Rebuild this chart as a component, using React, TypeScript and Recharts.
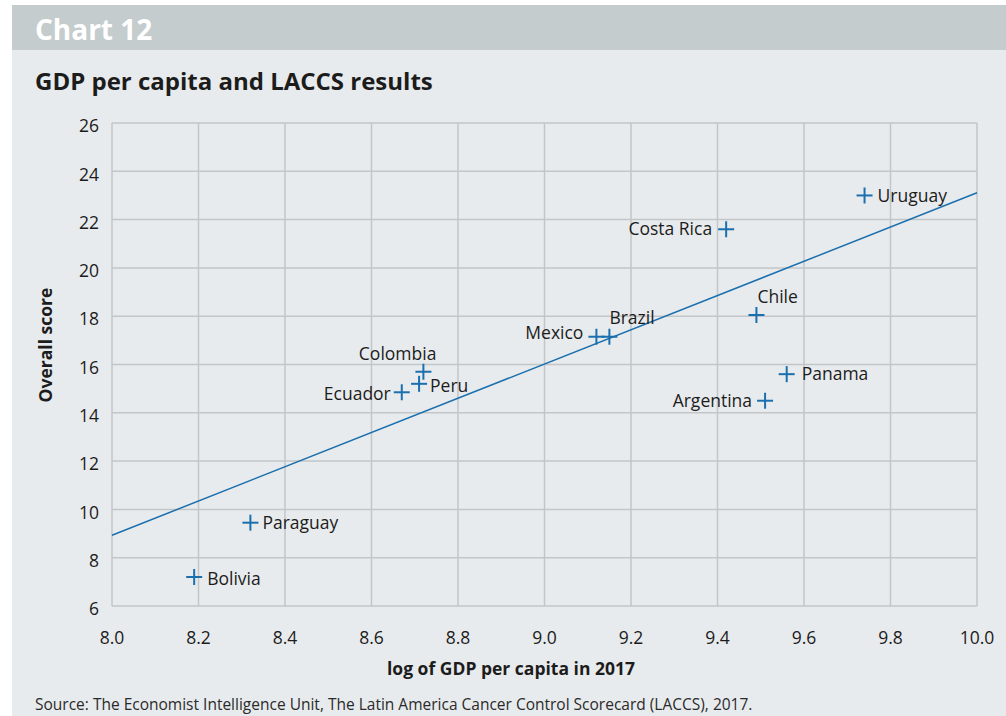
import React from 'react';
import { ScatterChart, Scatter, XAxis, YAxis, CartesianGrid, ReferenceLine } from 'recharts';

// Country names and readings (log GDP per capita 2017, overall LACCS score)
const countries = ['Uruguay', 'Costa Rica', 'Chile', 'Panama', 'Argentina', 'Brazil', 'Mexico', 'Colombia', 'Peru', 'Ecuador', 'Paraguay', 'Bolivia'];
const logGdp = [9.74, 9.42, 9.49, 9.56, 9.51, 9.15, 9.12, 8.72, 8.71, 8.67, 8.32, 8.19];
const scores = [23.0, 21.6, 18.05, 15.6, 14.5, 17.15, 17.15, 15.7, 15.2, 14.85, 9.45, 7.2];

// Fitted trend line end points
const trendX = [8.0, 10.0];
const trendY = [8.93, 23.11];

const xTicks = [8.0, 8.2, 8.4, 8.6, 8.8, 9.0, 9.2, 9.4, 9.6, 9.8, 10.0];
const yTicks = [6, 8, 10, 12, 14, 16, 18, 20, 22, 24, 26];

// where each country's label sits relative to its mark
const labelPlace: { [key: string]: { anchor: string; dx: number; dy: number } } = {
    'Uruguay': { anchor: 'start', dx: 13, dy: 0 },
    'Costa Rica': { anchor: 'end', dx: -14, dy: 0 },
    'Chile': { anchor: 'start', dx: 1, dy: -18 },
    'Panama': { anchor: 'start', dx: 15, dy: 0 },
    'Argentina': { anchor: 'end', dx: -13, dy: 0 },
    'Brazil': { anchor: 'start', dx: 0, dy: -19 },
    'Mexico': { anchor: 'end', dx: -13, dy: -4 },
    'Colombia': { anchor: 'end', dx: 13, dy: -18 },
    'Peru': { anchor: 'start', dx: 11, dy: 2 },
    'Ecuador': { anchor: 'end', dx: -11, dy: 2 },
    'Paraguay': { anchor: 'start', dx: 12, dy: 0 },
    'Bolivia': { anchor: 'start', dx: 13, dy: 2 },
};

const data = countries.map((name, i) => ({ name, x: logGdp[i], y: scores[i] }));

const FONT = '"Open Sans", "Noto Sans", sans-serif';
const BLUE = '#1a6fae';
const INK = '#1c1c1c';

const CrossMark = (props: any) => {
    const { cx, cy, payload } = props;
    const place = labelPlace[payload.name];
    return (
        <g>
            <line x1={cx - 8} y1={cy} x2={cx + 8} y2={cy} stroke={BLUE} strokeWidth={2} />
            <line x1={cx} y1={cy - 8} x2={cx} y2={cy + 8} stroke={BLUE} strokeWidth={2} />
            <text
                x={cx + place.dx}
                y={cy + place.dy}
                dy="0.35em"
                textAnchor={place.anchor}
                fill={INK}
                fontSize={17.5}
                fontFamily={FONT}
            >
                {payload.name}
            </text>
        </g>
    );
};

export default function App() {
    return (
        <div style={{ position: 'absolute', left: 0, top: 0, width: 1006, height: 716, background: '#fff' }}>
            <svg width={1006} height={716} style={{ position: 'absolute', left: 0, top: 0 }}>
                <rect x={12} y={5} width={994} height={711} fill="#e8ebed" />
                <rect x={12} y={5} width={994} height={45} fill="#c5ccce" />
                <text x={35} y={40} fill="#fff" fontSize={28} fontWeight="bold" fontFamily={FONT}>Chart 12</text>
                <text x={35} y={90} fill={INK} fontSize={24} fontWeight="bold" fontFamily={FONT}>GDP per capita and LACCS results</text>
                <text
                    transform="translate(52,345) rotate(-90)"
                    textAnchor="middle"
                    fill={INK}
                    fontSize={17.5}
                    fontWeight="bold"
                    fontFamily={FONT}
                >
                    Overall score
                </text>
                <text x={511} y={675} textAnchor="middle" fill={INK} fontSize={17.5} fontWeight="bold" fontFamily={FONT}>
                    log of GDP per capita in 2017
                </text>
                <text x={35} y={710} fill="#2a2a2a" fontSize={15.5} fontFamily={FONT}>
                    Source: The Economist Intelligence Unit, The Latin America Cancer Control Scorecard (LACCS), 2017.
                </text>
            </svg>
            <div style={{ position: 'absolute', left: 0, top: 0 }}>
                <ScatterChart width={1006} height={716} margin={{ top: 123, right: 29, bottom: 0, left: 0 }}>
                    <CartesianGrid stroke="#c3c6c8" strokeWidth={1.5} />
                    <XAxis
                        type="number"
                        dataKey="x"
                        domain={[8, 10]}
                        ticks={xTicks}
                        tickFormatter={(v: number) => v.toFixed(1)}
                        axisLine={false}
                        tickLine={false}
                        tickSize={0}
                        tickMargin={26}
                        height={110}
                        interval={0}
                        tick={{ fill: INK, fontSize: 17.5, fontFamily: FONT }}
                    />
                    <YAxis
                        type="number"
                        dataKey="y"
                        domain={[6, 26]}
                        ticks={yTicks}
                        axisLine={false}
                        tickLine={false}
                        tickSize={0}
                        tickMargin={13}
                        width={112}
                        interval={0}
                        tick={{ fill: INK, fontSize: 17.5, fontFamily: FONT, dy: 3 }}
                    />
                    <ReferenceLine
                        segment={[{ x: trendX[0], y: trendY[0] }, { x: trendX[1], y: trendY[1] }]}
                        stroke={BLUE}
                        strokeWidth={1.5}
                    />
                    <Scatter data={data} shape={<CrossMark />} isAnimationActive={false} />
                </ScatterChart>
            </div>
        </div>
    );
}
